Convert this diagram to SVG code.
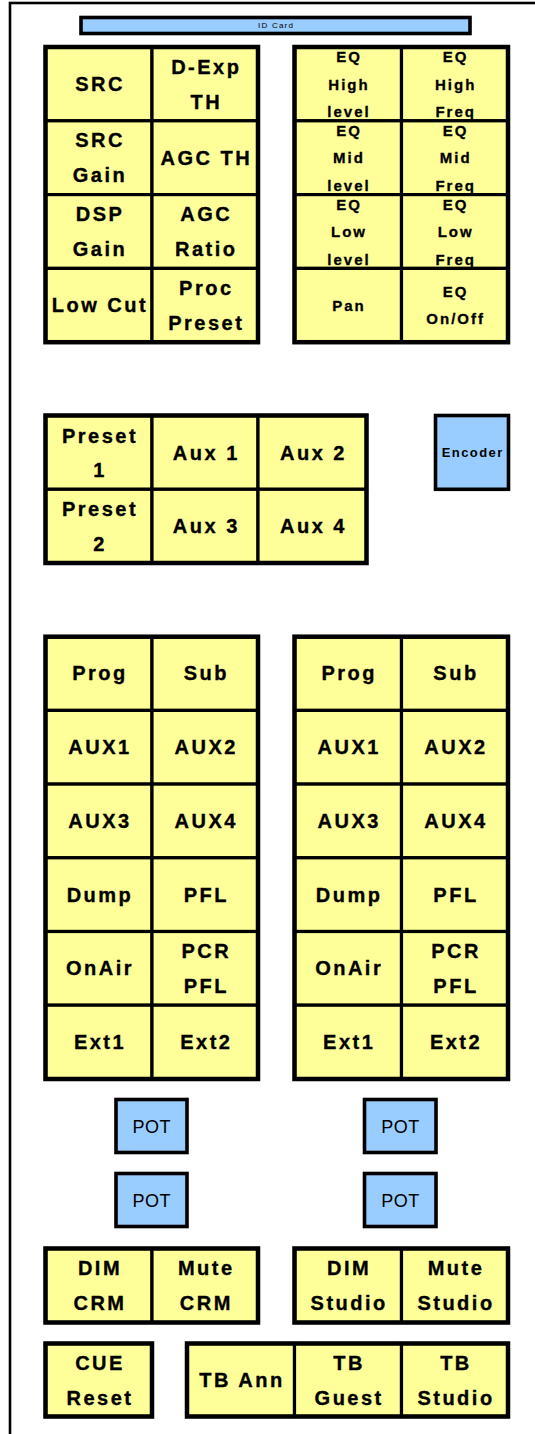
<svg xmlns="http://www.w3.org/2000/svg" width="535" height="1434" viewBox="0 0 535 1434">
<style>
.y{fill:#FFFF99;stroke:#000;stroke-width:3.2}
.b{fill:#99CCFF;stroke:#000;stroke-width:3.6}
.o{fill:none;stroke:#000;stroke-width:4.5}
.t{font-family:"Liberation Sans",Arial,sans-serif;font-weight:bold;font-size:20px;letter-spacing:2.5px;text-anchor:middle;fill:#000;stroke:#000;stroke-width:0.35}
.e{font-family:"Liberation Sans",Arial,sans-serif;font-weight:bold;font-size:15px;letter-spacing:2px;text-anchor:middle;fill:#000;stroke:#000;stroke-width:0.3}
.p{font-family:"Liberation Sans",Arial,sans-serif;font-size:18px;letter-spacing:0.5px;text-anchor:middle;fill:#000}
.n{font-family:"Liberation Sans",Arial,sans-serif;font-weight:bold;font-size:13px;letter-spacing:1.4px;text-anchor:middle;fill:#000}
.i{font-family:"Liberation Sans",Arial,sans-serif;font-size:8px;letter-spacing:1.2px;text-anchor:middle;fill:#000}
</style>
<rect x="0" y="0" width="535" height="1434" fill="#fff"/>
<rect id="frame" x="10" y="3" width="600" height="1500" fill="none" stroke="#000" stroke-width="2.6"/>

<g id="id-card"><rect class="b" x="81" y="17.5" width="389" height="16" stroke-width="3.4"/><text class="i" x="276.1" y="28">ID Card</text></g>

<!-- top-left block -->
<g id="src"><rect class="y" x="45.5" y="47" width="106.5" height="73.8"/><text class="t" x="100" y="90.8">SRC</text></g>
<g id="dexp-th"><rect class="y" x="152" y="47" width="106" height="73.8"/><text class="t" x="206.3" y="73.6">D-Exp</text><text class="t" x="206.3" y="108.6">TH</text></g>
<g id="src-gain"><rect class="y" x="45.5" y="120.8" width="106.5" height="73.8"/><text class="t" x="100" y="147.4">SRC</text><text class="t" x="100" y="182.4">Gain</text></g>
<g id="agc-th"><rect class="y" x="152" y="120.8" width="106" height="73.8"/><text class="t" x="206.3" y="164.6">AGC TH</text></g>
<g id="dsp-gain"><rect class="y" x="45.5" y="194.6" width="106.5" height="73.8"/><text class="t" x="100" y="221.2">DSP</text><text class="t" x="100" y="256.2">Gain</text></g>
<g id="agc-ratio"><rect class="y" x="152" y="194.6" width="106" height="73.8"/><text class="t" x="206.3" y="221.2">AGC</text><text class="t" x="206.3" y="256.2">Ratio</text></g>
<g id="low-cut"><rect class="y" x="45.5" y="268.4" width="106.5" height="73.8"/><text class="t" x="100" y="312.2">Low Cut</text></g>
<g id="proc-preset"><rect class="y" x="152" y="268.4" width="106" height="73.8"/><text class="t" x="206.3" y="295">Proc</text><text class="t" x="206.3" y="330">Preset</text></g>
<rect class="o" x="45.5" y="47" width="212.5" height="295.2"/>

<!-- top-right EQ block -->
<g id="eq-high-level"><rect class="y" x="294.5" y="47" width="107" height="73.8"/><text class="e" x="349" y="62">EQ</text><text class="e" x="349" y="89.5">High</text><text class="e" x="349" y="117">level</text></g>
<g id="eq-high-freq"><rect class="y" x="401.5" y="47" width="106.5" height="73.8"/><text class="e" x="455.7" y="62">EQ</text><text class="e" x="455.7" y="89.5">High</text><text class="e" x="455.7" y="117">Freq</text></g>
<g id="eq-mid-level"><rect class="y" x="294.5" y="120.8" width="107" height="73.8"/><text class="e" x="349" y="135.8">EQ</text><text class="e" x="349" y="163.3">Mid</text><text class="e" x="349" y="190.8">level</text></g>
<g id="eq-mid-freq"><rect class="y" x="401.5" y="120.8" width="106.5" height="73.8"/><text class="e" x="455.7" y="135.8">EQ</text><text class="e" x="455.7" y="163.3">Mid</text><text class="e" x="455.7" y="190.8">Freq</text></g>
<g id="eq-low-level"><rect class="y" x="294.5" y="194.6" width="107" height="73.8"/><text class="e" x="349" y="209.6">EQ</text><text class="e" x="349" y="237.1">Low</text><text class="e" x="349" y="264.6">level</text></g>
<g id="eq-low-freq"><rect class="y" x="401.5" y="194.6" width="106.5" height="73.8"/><text class="e" x="455.7" y="209.6">EQ</text><text class="e" x="455.7" y="237.1">Low</text><text class="e" x="455.7" y="264.6">Freq</text></g>
<g id="pan"><rect class="y" x="294.5" y="268.4" width="107" height="73.8"/><text class="e" x="349" y="310.6">Pan</text></g>
<g id="eq-onoff"><rect class="y" x="401.5" y="268.4" width="106.5" height="73.8"/><text class="e" x="455.7" y="297">EQ</text><text class="e" x="455.7" y="324">On/Off</text></g>
<rect class="o" x="294.5" y="47" width="213.5" height="295.2" stroke-width="5"/>

<!-- preset / aux block -->
<g id="preset-1"><rect class="y" x="45.5" y="415.5" width="106.5" height="73.8"/><text class="t" x="100" y="442.8">Preset</text><text class="t" x="100" y="477.2">1</text></g>
<g id="aux-1"><rect class="y" x="152" y="415.5" width="106" height="73.8"/><text class="t" x="206.3" y="459.8">Aux 1</text></g>
<g id="aux-2"><rect class="y" x="258" y="415.5" width="108.5" height="73.8"/><text class="t" x="313.5" y="459.8">Aux 2</text></g>
<g id="preset-2"><rect class="y" x="45.5" y="489.3" width="106.5" height="73.7"/><text class="t" x="100" y="516.2">Preset</text><text class="t" x="100" y="550.7">2</text></g>
<g id="aux-3"><rect class="y" x="152" y="489.3" width="106" height="73.7"/><text class="t" x="206.3" y="533.4">Aux 3</text></g>
<g id="aux-4"><rect class="y" x="258" y="489.3" width="108.5" height="73.7"/><text class="t" x="313.5" y="533.4">Aux 4</text></g>
<rect class="o" x="45.5" y="415.5" width="321" height="147.5"/>

<g id="encoder"><rect class="b" x="435.5" y="415.5" width="73" height="73.8" stroke-width="4.2"/><text class="n" x="472.7" y="457.2">Encoder</text></g>

<!-- left channel block -->
<g id="l-prog"><rect class="y" x="45.5" y="636.7" width="106.5" height="73.7"/><text class="t" x="100" y="680.4">Prog</text></g>
<g id="l-sub"><rect class="y" x="152" y="636.7" width="106" height="73.7"/><text class="t" x="206.3" y="680.4">Sub</text></g>
<g id="l-aux1"><rect class="y" x="45.5" y="710.4" width="106.5" height="73.7"/><text class="t" x="100" y="754.1">AUX1</text></g>
<g id="l-aux2"><rect class="y" x="152" y="710.4" width="106" height="73.7"/><text class="t" x="206.3" y="754.1">AUX2</text></g>
<g id="l-aux3"><rect class="y" x="45.5" y="784.1" width="106.5" height="73.7"/><text class="t" x="100" y="827.8">AUX3</text></g>
<g id="l-aux4"><rect class="y" x="152" y="784.1" width="106" height="73.7"/><text class="t" x="206.3" y="827.8">AUX4</text></g>
<g id="l-dump"><rect class="y" x="45.5" y="857.8" width="106.5" height="73.7"/><text class="t" x="100" y="901.5">Dump</text></g>
<g id="l-pfl"><rect class="y" x="152" y="857.8" width="106" height="73.7"/><text class="t" x="206.3" y="901.5">PFL</text></g>
<g id="l-onair"><rect class="y" x="45.5" y="931.5" width="106.5" height="73.7"/><text class="t" x="100" y="975.2">OnAir</text></g>
<g id="l-pcr-pfl"><rect class="y" x="152" y="931.5" width="106" height="73.7"/><text class="t" x="206.3" y="958">PCR</text><text class="t" x="206.3" y="993">PFL</text></g>
<g id="l-ext1"><rect class="y" x="45.5" y="1005.2" width="106.5" height="73.8"/><text class="t" x="100" y="1049">Ext1</text></g>
<g id="l-ext2"><rect class="y" x="152" y="1005.2" width="106" height="73.8"/><text class="t" x="206.3" y="1049">Ext2</text></g>
<rect class="o" x="45.5" y="636.7" width="212.5" height="442.3"/>

<!-- right channel block -->
<g id="r-prog"><rect class="y" x="294.5" y="636.7" width="107" height="73.7"/><text class="t" x="349.2" y="680.4">Prog</text></g>
<g id="r-sub"><rect class="y" x="401.5" y="636.7" width="106.5" height="73.7"/><text class="t" x="456" y="680.4">Sub</text></g>
<g id="r-aux1"><rect class="y" x="294.5" y="710.4" width="107" height="73.7"/><text class="t" x="349.2" y="754.1">AUX1</text></g>
<g id="r-aux2"><rect class="y" x="401.5" y="710.4" width="106.5" height="73.7"/><text class="t" x="456" y="754.1">AUX2</text></g>
<g id="r-aux3"><rect class="y" x="294.5" y="784.1" width="107" height="73.7"/><text class="t" x="349.2" y="827.8">AUX3</text></g>
<g id="r-aux4"><rect class="y" x="401.5" y="784.1" width="106.5" height="73.7"/><text class="t" x="456" y="827.8">AUX4</text></g>
<g id="r-dump"><rect class="y" x="294.5" y="857.8" width="107" height="73.7"/><text class="t" x="349.2" y="901.5">Dump</text></g>
<g id="r-pfl"><rect class="y" x="401.5" y="857.8" width="106.5" height="73.7"/><text class="t" x="456" y="901.5">PFL</text></g>
<g id="r-onair"><rect class="y" x="294.5" y="931.5" width="107" height="73.7"/><text class="t" x="349.2" y="975.2">OnAir</text></g>
<g id="r-pcr-pfl"><rect class="y" x="401.5" y="931.5" width="106.5" height="73.7"/><text class="t" x="456" y="958">PCR</text><text class="t" x="456" y="993">PFL</text></g>
<g id="r-ext1"><rect class="y" x="294.5" y="1005.2" width="107" height="73.8"/><text class="t" x="349.2" y="1049">Ext1</text></g>
<g id="r-ext2"><rect class="y" x="401.5" y="1005.2" width="106.5" height="73.8"/><text class="t" x="456" y="1049">Ext2</text></g>
<rect class="o" x="294.5" y="636.7" width="213.5" height="442.3" stroke-width="5"/>

<!-- pots -->
<g id="l-pot-1"><rect class="b" x="116" y="1099.5" width="71" height="53" stroke-width="4"/><text class="p" x="151.8" y="1132.8">POT</text></g>
<g id="l-pot-2"><rect class="b" x="116" y="1173.5" width="71" height="53" stroke-width="4"/><text class="p" x="151.8" y="1206.8">POT</text></g>
<g id="r-pot-1"><rect class="b" x="364.5" y="1099.5" width="71.5" height="53" stroke-width="4"/><text class="p" x="400.5" y="1132.8">POT</text></g>
<g id="r-pot-2"><rect class="b" x="364.5" y="1173.5" width="71.5" height="53" stroke-width="4"/><text class="p" x="400.5" y="1206.8">POT</text></g>

<!-- monitor controls -->
<g id="dim-crm"><rect class="y" x="45.5" y="1248.5" width="106.5" height="74"/><text class="t" x="100" y="1275.2">DIM</text><text class="t" x="100" y="1310.2">CRM</text></g>
<g id="mute-crm"><rect class="y" x="152" y="1248.5" width="106" height="74"/><text class="t" x="206.3" y="1275.2">Mute</text><text class="t" x="206.3" y="1310.2">CRM</text></g>
<rect class="o" x="45.5" y="1248.5" width="212.5" height="74"/>
<g id="dim-studio"><rect class="y" x="294.5" y="1248.5" width="107" height="74"/><text class="t" x="349.2" y="1275.2">DIM</text><text class="t" x="349.2" y="1310.2">Studio</text></g>
<g id="mute-studio"><rect class="y" x="401.5" y="1248.5" width="106.5" height="74"/><text class="t" x="456" y="1275.2">Mute</text><text class="t" x="456" y="1310.2">Studio</text></g>
<rect class="o" x="294.5" y="1248.5" width="213.5" height="74" stroke-width="5"/>

<g id="cue-reset"><rect class="y" x="45.5" y="1343.5" width="106.5" height="73"/><rect class="o" x="45.5" y="1343.5" width="106.5" height="73"/><text class="t" x="100" y="1369.8">CUE</text><text class="t" x="100" y="1404.8">Reset</text></g>

<g id="tb-ann"><rect class="y" x="187" y="1343.5" width="107.5" height="73"/><text class="t" x="242" y="1387">TB Ann</text></g>
<g id="tb-guest"><rect class="y" x="294.5" y="1343.5" width="107" height="73"/><text class="t" x="349.2" y="1369.8">TB</text><text class="t" x="349.2" y="1404.8">Guest</text></g>
<g id="tb-studio"><rect class="y" x="401.5" y="1343.5" width="106.5" height="73"/><text class="t" x="456" y="1369.8">TB</text><text class="t" x="456" y="1404.8">Studio</text></g>
<rect class="o" x="187" y="1343.5" width="321" height="73" stroke-width="5"/>
</svg>
